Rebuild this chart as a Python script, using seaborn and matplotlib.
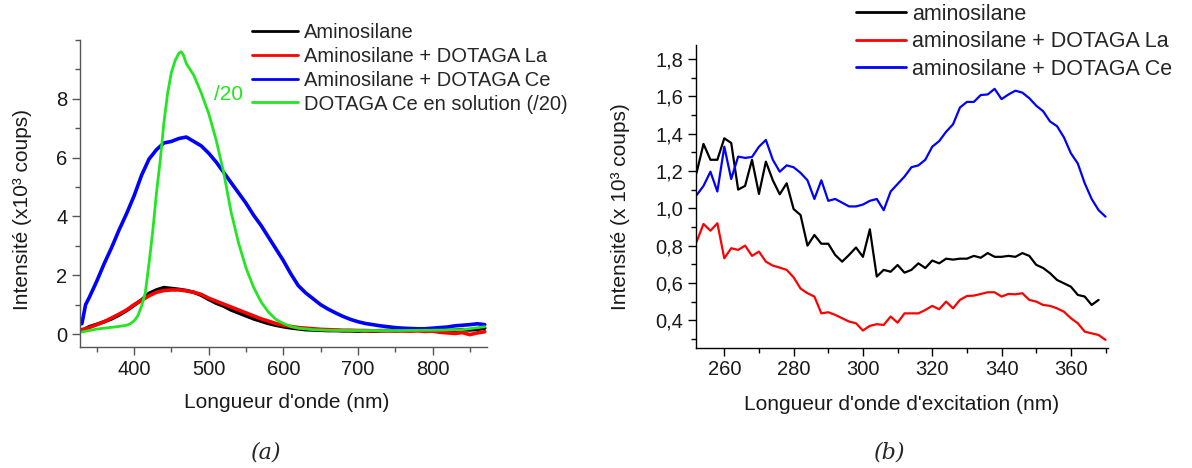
import numpy as np
import pandas as pd
import matplotlib
matplotlib.use("Agg")
import matplotlib.pyplot as plt
from matplotlib.ticker import MultipleLocator, FixedLocator, FixedFormatter
import seaborn as sns

# ---------------- data (a) : emission spectra ----------------
wl_a = [330, 335, 340, 350, 360, 370, 380, 390, 400, 410, 420, 430, 440, 450, 460,
        470, 480, 490, 500, 510, 520, 530, 540, 550, 560, 570, 580, 590, 600, 610,
        620, 630, 640, 650, 660, 670, 680, 690, 700, 710, 720, 730, 740, 750, 760,
        770, 780, 790, 800, 810, 820, 830, 840, 850, 860, 870]
amino_a = [0.10, 0.18, 0.25, 0.33, 0.42, 0.52, 0.65, 0.80, 0.98, 1.16, 1.38, 1.50, 1.58, 1.55, 1.52,
           1.48, 1.42, 1.32, 1.18, 1.05, 0.95, 0.82, 0.72, 0.62, 0.52, 0.44, 0.36, 0.30, 0.25, 0.21,
           0.18, 0.15, 0.14, 0.13, 0.12, 0.12, 0.11, 0.11, 0.10, 0.11, 0.10, 0.11, 0.12, 0.11, 0.12,
           0.12, 0.13, 0.12, 0.14, 0.13, 0.12, 0.13, 0.15, 0.14, 0.16, 0.20]
la_a = [0.15, 0.19, 0.22, 0.32, 0.42, 0.55, 0.68, 0.82, 1.00, 1.15, 1.30, 1.42, 1.48, 1.50, 1.50,
        1.47, 1.42, 1.35, 1.22, 1.12, 1.02, 0.92, 0.82, 0.72, 0.62, 0.52, 0.44, 0.36, 0.30, 0.26,
        0.22, 0.20, 0.18, 0.16, 0.15, 0.14, 0.13, 0.13, 0.12, 0.12, 0.11, 0.12, 0.11, 0.12, 0.11,
        0.10, 0.11, 0.09, 0.10, 0.06, 0.04, 0.02, 0.05, -0.02, 0.04, 0.08]
ce_a = [0.35, 1.00, 1.25, 1.80, 2.40, 2.95, 3.55, 4.10, 4.70, 5.40, 5.95, 6.27, 6.50, 6.55, 6.65,
        6.70, 6.55, 6.40, 6.15, 5.85, 5.50, 5.15, 4.80, 4.45, 4.05, 3.70, 3.30, 2.90, 2.50, 2.05,
        1.65, 1.40, 1.20, 1.00, 0.85, 0.72, 0.60, 0.50, 0.42, 0.36, 0.32, 0.28, 0.25, 0.22, 0.20,
        0.19, 0.18, 0.18, 0.20, 0.22, 0.24, 0.28, 0.30, 0.32, 0.35, 0.32]
wl_sol = [330, 340, 350, 360, 370, 380, 390, 395, 400, 405, 410, 415, 420, 425, 430,
          435, 440, 445, 450, 455, 460, 463, 466, 470, 480, 490, 500, 510, 520, 530,
          540, 550, 560, 570, 580, 590, 600, 610, 620, 640, 660, 700, 750, 800, 840, 870]
ce_sol = [0.07, 0.12, 0.17, 0.20, 0.23, 0.26, 0.30, 0.35, 0.45, 0.62, 0.95, 1.40, 2.40, 3.50, 4.80,
          5.90, 7.20, 8.20, 8.90, 9.30, 9.55, 9.60, 9.50, 9.20, 8.80, 8.20, 7.50, 6.60, 5.50, 4.15,
          3.10, 2.25, 1.60, 1.10, 0.75, 0.50, 0.36, 0.26, 0.20, 0.15, 0.13, 0.12, 0.12, 0.13, 0.15, 0.25]
labels_a = ["Aminosilane", "Aminosilane + DOTAGA La", "Aminosilane + DOTAGA Ce",
            "DOTAGA Ce en solution (/20)"]
xticks_a = [400, 500, 600, 700, 800]
yticks_a = [0, 2, 4, 6, 8]

# ---------------- data (b) : excitation spectra ----------------
wl_b = [252, 254, 256, 258, 260, 262, 264, 266, 268, 270, 272, 274, 276, 278, 280,
        282, 284, 286, 288, 290, 292, 294, 296, 298, 300, 302, 304, 306, 308, 310,
        312, 314, 316, 318, 320, 322, 324, 326, 328, 330, 332, 334, 336, 338, 340,
        342, 344, 346, 348, 350, 352, 354, 356, 358, 360, 362, 364, 366, 368, 370]
amino_b = [1.19, 1.345, 1.26, 1.26, 1.375, 1.35, 1.10, 1.12, 1.26, 1.077, 1.25, 1.15, 1.075, 1.134, 0.996,
           0.964, 0.80, 0.857, 0.81, 0.81, 0.75, 0.714, 0.75, 0.79, 0.74, 0.887, 0.634, 0.67, 0.66, 0.696,
           0.655, 0.67, 0.705, 0.68, 0.72, 0.705, 0.73, 0.725, 0.73, 0.73, 0.745, 0.735, 0.76, 0.74, 0.74,
           0.745, 0.74, 0.76, 0.745, 0.697, 0.68, 0.652, 0.616, 0.598, 0.58, 0.536, 0.527, 0.482, 0.509, np.nan]
la_b = [0.82, 0.916, 0.88, 0.92, 0.732, 0.786, 0.777, 0.80, 0.745, 0.768, 0.714, 0.693, 0.682, 0.67, 0.63,
        0.57, 0.545, 0.527, 0.437, 0.443, 0.429, 0.411, 0.393, 0.384, 0.345, 0.37, 0.379, 0.375, 0.42, 0.387,
        0.437, 0.437, 0.437, 0.455, 0.477, 0.459, 0.50, 0.464, 0.509, 0.53, 0.532, 0.541, 0.55, 0.55, 0.527,
        0.541, 0.539, 0.545, 0.509, 0.50, 0.482, 0.477, 0.464, 0.446, 0.411, 0.384, 0.339, 0.33, 0.321, 0.295]
ce_b = [1.07, 1.12, 1.196, 1.09, 1.33, 1.157, 1.277, 1.27, 1.275, 1.33, 1.366, 1.26, 1.196, 1.23, 1.22,
        1.19, 1.15, 1.05, 1.15, 1.04, 1.05, 1.03, 1.01, 1.01, 1.02, 1.04, 1.05, 0.99, 1.09, 1.13,
        1.17, 1.22, 1.23, 1.26, 1.33, 1.36, 1.41, 1.45, 1.54, 1.57, 1.57, 1.607, 1.61, 1.64, 1.585,
        1.61, 1.63, 1.62, 1.59, 1.55, 1.52, 1.465, 1.44, 1.38, 1.295, 1.24, 1.134, 1.05, 0.99, 0.955]
labels_b = ["aminosilane", "aminosilane + DOTAGA La", "aminosilane + DOTAGA Ce"]
xticks_b = [260, 280, 300, 320, 340, 360]
yticks_b = [0.4, 0.6, 0.8, 1.0, 1.2, 1.4, 1.6, 1.8]
ytick_labels_b = [f"{v:.1f}".replace(".", ",") for v in yticks_b]

# ---------------- style ----------------
sns.set_style("ticks")
plt.rcParams["font.family"] = ["Liberation Sans", "DejaVu Sans"]

W, H = 1192, 468
fig = plt.figure(figsize=(W / 100, H / 100), dpi=100)

def box(x0, y0, x1, y1):
    return [x0 / W, 1 - y1 / H, (x1 - x0) / W, (y1 - y0) / H]

ax1 = fig.add_axes(box(80, 40, 487, 347.3))
ax2 = fig.add_axes(box(695.7, 45, 1108.3, 347.7))

BLACK, RED, BLUE, GREEN = "#000000", "#ff0000", "#0000ff", "#22e622"

# (a)
sns.lineplot(x=wl_a, y=amino_a, ax=ax1, color=BLACK, lw=2.6, label=labels_a[0], sort=False)
sns.lineplot(x=wl_a, y=la_a, ax=ax1, color=RED, lw=2.6, label=labels_a[1], sort=False)
sns.lineplot(x=wl_a, y=ce_a, ax=ax1, color=BLUE, lw=2.6, label=labels_a[2], sort=False)
sns.lineplot(x=wl_sol, y=ce_sol, ax=ax1, color=GREEN, lw=2.0, label=labels_a[3], sort=False)

ax1.set_xlim(327.5, 873)
ax1.set_ylim(-0.45, 10.0)
ax1.xaxis.set_major_locator(FixedLocator(xticks_a))
ax1.xaxis.set_minor_locator(MultipleLocator(50))
ax1.yaxis.set_major_locator(FixedLocator(yticks_a))
ax1.yaxis.set_minor_locator(MultipleLocator(1))
ax1.text(526, 8.15, "/20", color=GREEN, fontsize=15, ha="center", va="center")

# (b)
sns.lineplot(x=wl_b, y=amino_b, ax=ax2, color=BLACK, lw=1.6, label=labels_b[0], sort=False)
sns.lineplot(x=wl_b, y=la_b, ax=ax2, color=RED, lw=1.6, label=labels_b[1], sort=False)
sns.lineplot(x=wl_b, y=ce_b, ax=ax2, color=BLUE, lw=1.6, label=labels_b[2], sort=False)

ax2.set_xlim(251.75, 370.8)
ax2.set_ylim(0.253, 1.875)
ax2.xaxis.set_major_locator(FixedLocator(xticks_b))
ax2.xaxis.set_minor_locator(MultipleLocator(10))
ax2.yaxis.set_major_locator(FixedLocator(yticks_b))
ax2.yaxis.set_major_formatter(FixedFormatter(ytick_labels_b))
ax2.yaxis.set_minor_locator(MultipleLocator(0.1))

for ax, sc in ((ax1, "#555555"), (ax2, "#000000")):
    sns.despine(ax=ax)
    for s in ("left", "bottom"):
        ax.spines[s].set_color(sc)
        ax.spines[s].set_linewidth(1.0)
    ax.tick_params(which="major", direction="out", length=6, width=1, color=sc,
                   labelsize=14.5, labelcolor="#1a1a1a", pad=3)
    ax.tick_params(which="minor", direction="out", length=3.5, width=1, color=sc)
    ax.set_xlabel("")
    ax.set_ylabel("")

# legends
leg1 = ax1.legend(loc="upper left", bbox_to_anchor=(252 / W, 1 - 23 / H),
                  bbox_transform=fig.transFigure, frameon=False, fontsize=14.5,
                  handlelength=2.3, handletextpad=0.3, labelspacing=0.24,
                  borderpad=0, borderaxespad=0)
for l in leg1.get_lines():
    l.set_linewidth(2.0)
leg2 = ax2.legend(loc="upper left", bbox_to_anchor=(856 / W, 1 - 4 / H),
                  bbox_transform=fig.transFigure, frameon=False, fontsize=15.5,
                  handlelength=2.3, handletextpad=0.3, labelspacing=0.3,
                  borderpad=0, borderaxespad=0)
for l in leg2.get_lines():
    l.set_linewidth(2.0)

# axis labels
fig.text(287 / W, 1 - 403 / H, "Longueur d'onde (nm)", fontsize=15,
         ha="center", va="center", color="#1a1a1a")
fig.text(902 / W, 1 - 405 / H, "Longueur d'onde d'excitation (nm)", fontsize=15,
         ha="center", va="center", color="#1a1a1a")
fig.text(23 / W, 1 - 209 / H, "Intensité (x10³ coups)", fontsize=15, rotation=90,
         ha="center", va="center", color="#1a1a1a")
fig.text(620 / W, 1 - 207 / H, "Intensité (x 10³ coups)", fontsize=15, rotation=90,
         ha="center", va="center", color="#1a1a1a")

# captions
fig.text(266 / W, 1 - 452 / H, "(a)", fontsize=16, style="italic",
         family="DejaVu Serif", ha="center", va="center")
fig.text(890 / W, 1 - 452 / H, "(b)", fontsize=16, style="italic",
         family="DejaVu Serif", ha="center", va="center")

fig.savefig("out.png", dpi=100)
